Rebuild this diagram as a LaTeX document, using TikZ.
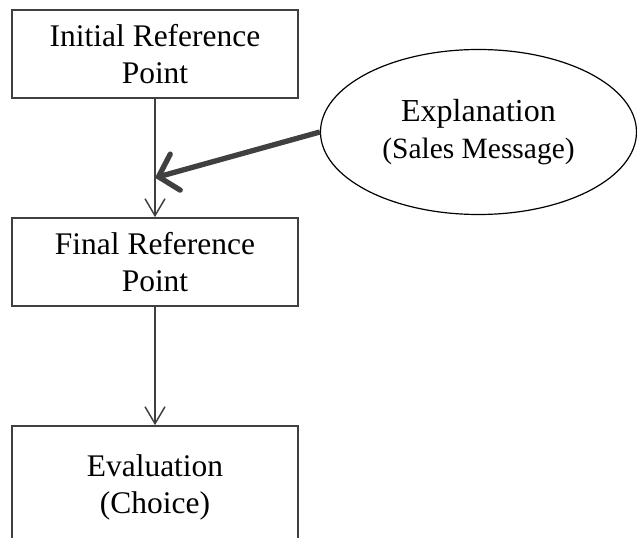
\documentclass[tikz,border=0pt]{standalone}
\usepackage{fontspec}
\setmainfont{Liberation Serif}
\usetikzlibrary{shapes.geometric,arrows.meta,calc}
\definecolor{linegray}{HTML}{404040}
\tikzset{
  stepbox/.style={draw=linegray, line width=1.3pt, rectangle, inner sep=0pt,
    minimum width=214.5pt, minimum height=66pt, align=center,
    font=\fontsize{23.6pt}{27.75pt}\selectfont},
  ellbox/.style={draw=black, line width=0.9pt, ellipse, inner sep=0pt,
    minimum width=237pt, minimum height=123.75pt, align=center,
    font=\fontsize{24pt}{27.5pt}\selectfont},
  flow/.style={draw=linegray, line width=1.3pt,
    -{Straight Barb[length=12.75pt,width=15pt,line width=1.1pt]}},
  bigflow/.style={draw=linegray, line width=4pt,
    -{Straight Barb[length=13pt,width=28pt,line width=4pt,line cap=round]}}
}
\begin{document}
\begin{tikzpicture}[x=0.75pt,y=-0.75pt]
\useasboundingbox (0,0) rectangle (637,538);
\clip (0,0) rectangle (637,538);
\node[stepbox] (init) at (155,54) {Initial Reference\\Point};
\node[stepbox] (final) at (155,262) {Final Reference\\Point};
\node[stepbox, minimum height=91.5pt] (eval) at (155,487) {Evaluation\\(Choice)};
\node[ellbox] (expl) at (478.5,132) {Explanation\\{\fontsize{22.1pt}{27pt}\selectfont (Sales Message)}};
\coordinate (meet) at ($(init.south)!0.667!(final.north)$);
\draw[flow] (init.south) -- (final.north);
\draw[flow] (final.south) -- (eval.north);
\draw[bigflow] (expl.west) -- (meet);
\end{tikzpicture}
\end{document}
